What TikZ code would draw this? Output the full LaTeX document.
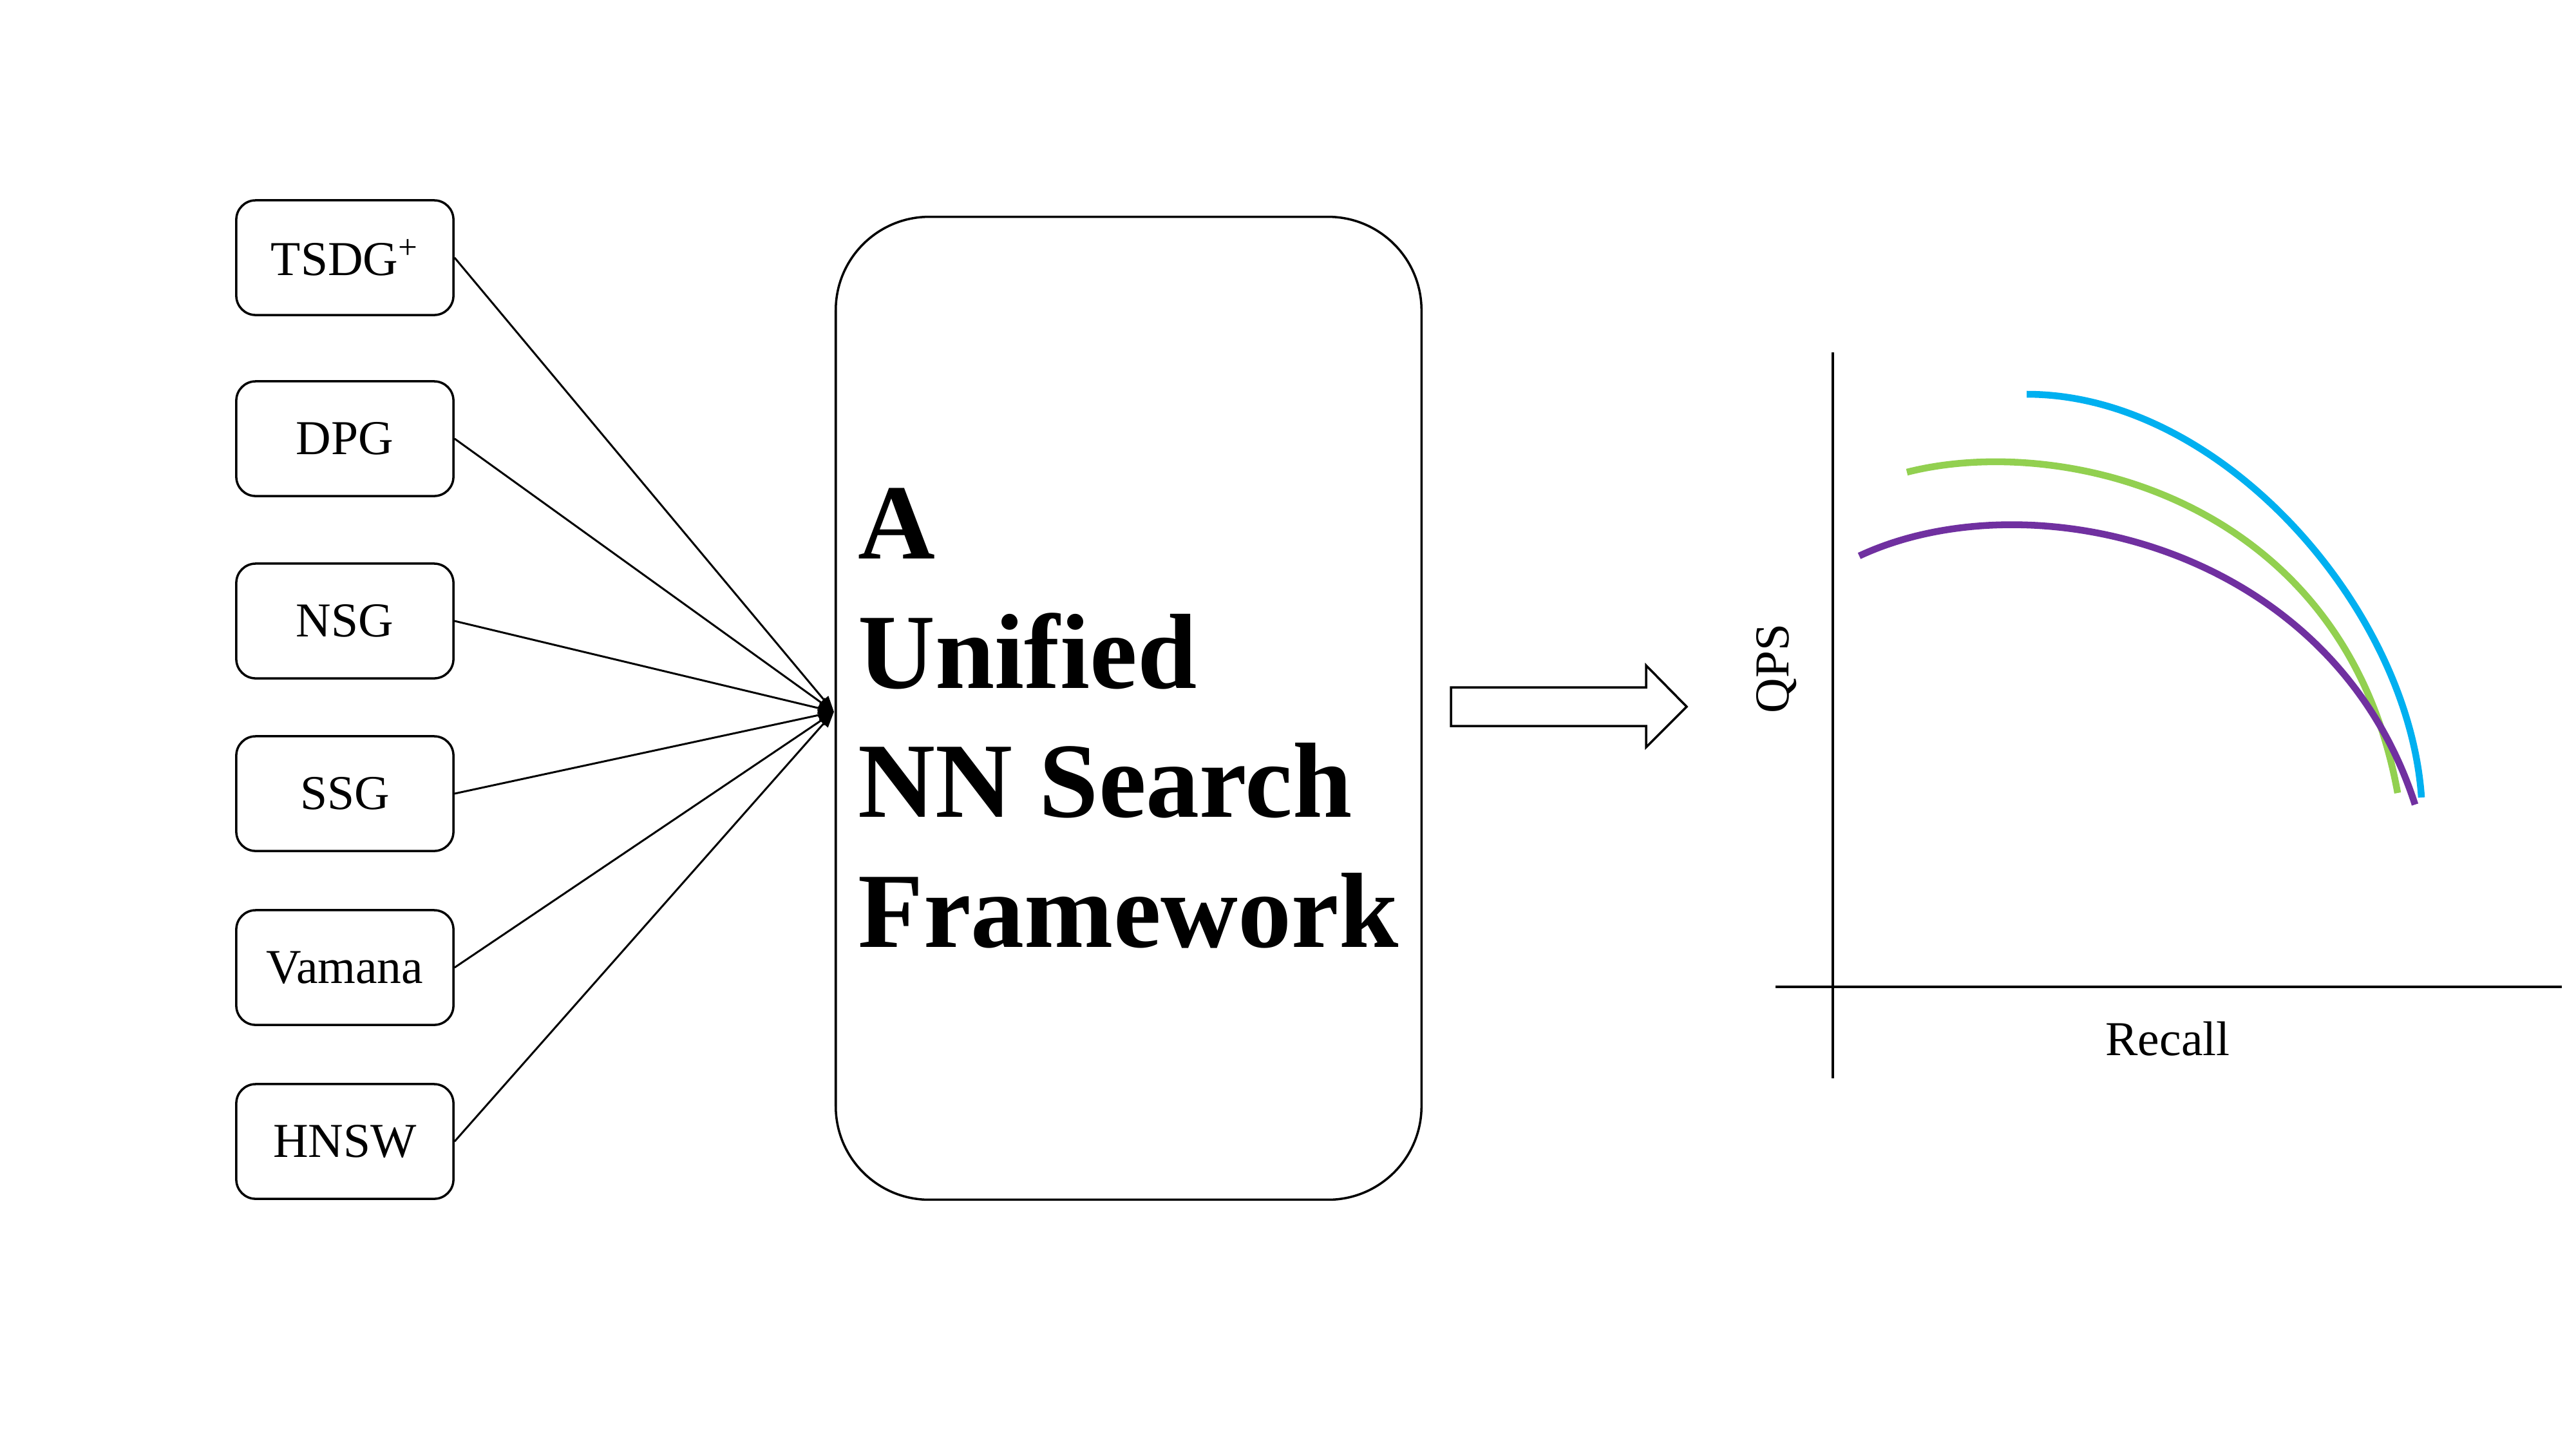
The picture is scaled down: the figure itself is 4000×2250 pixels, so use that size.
\documentclass[tikz,border=0pt]{standalone}
\usepackage{fontspec}
\setmainfont{Liberation Serif}
\usetikzlibrary{arrows.meta}
\definecolor{cblue}{HTML}{00B0F0}
\definecolor{cgreen}{HTML}{92D050}
\definecolor{cpurple}{HTML}{7030A0}
\begin{document}
\begin{tikzpicture}[x=0.01cm,y=-0.01cm,
  algbox/.style={draw, line width=1pt, rounded corners=0.3cm, minimum width=3.37cm,
    minimum height=1.78cm, inner sep=0pt, font=\fontsize{21.5}{26}\selectfont},
  mainbox/.style={draw, line width=1pt, rounded corners=1.45cm, minimum width=9.09cm,
    minimum height=15.25cm, inner sep=0pt},
  bigtext/.style={anchor=base west, inner sep=0pt, font=\fontsize{47.2}{57}\selectfont\bfseries},
  link/.style={line width=0.85pt, -{Triangle[length=7pt,width=5pt]}},
  axis/.style={line width=0.9pt},
  curve/.style={line width=3pt},
  axlabel/.style={inner sep=0pt, font=\fontsize{21.5}{26}\selectfont}]
\fill[white] (0,0) rectangle (4000,2250);
\useasboundingbox (0,0) rectangle (4000,2250);

% algorithm boxes
\node[algbox] (tsdg) at (535.5,400) {TSDG\textsuperscript{+}};
\node[algbox] (dpg) at (535.5,681) {DPG};
\node[algbox] (nsg) at (535.5,964) {NSG};
\node[algbox] (ssg) at (535.5,1232) {SSG};
\node[algbox] (vamana) at (535.5,1502) {Vamana};
\node[algbox] (hnsw) at (535.5,1772) {HNSW};

% framework box
\node[mainbox] (fw) at (1752.5,1099.5) {};
\node[bigtext] (fwa) at (1332,867) {A};
\node[bigtext] (fwb) at (1332,1068) {Unified};
\node[bigtext] (fwc) at (1332,1268) {NN Search};
\node[bigtext] (fwd) at (1332,1470) {Framework};

\coordinate (conv) at (1295,1105);
\foreach \n in {tsdg,dpg,nsg,ssg,vamana,hnsw}
  \draw[link] (\n.east) -- (conv);

% block arrow
\draw[line width=1pt, line join=miter] (2253,1067) -- (2556,1067) -- (2556,1033) -- (2619,1097)
  -- (2556,1160) -- (2556,1127) -- (2253,1127) -- cycle;

% chart
\coordinate (ytop) at (2846,547);
\coordinate (ybot) at (2846,1674);
\coordinate (xl) at (2757,1532);
\coordinate (xr) at (3978,1532);
\draw[axis] (ytop) -- (ybot);
\draw[axis] (xl) -- (xr);
\node[axlabel, anchor=base] (recall) at (3366,1638) {Recall};
\node[axlabel, anchor=base, rotate=90] (qps) at (2777,1038) {QPS};

\draw[curve, cblue] (3147,612) .. controls (3450,612) and (3740,945) .. (3760,1238);
\draw[curve, cgreen] (2961,733) .. controls (3200,672) and (3640,772) .. (3723,1231);
\draw[curve, cpurple] (2887,863) .. controls (3150,740) and (3620,845) .. (3750,1249);
\end{tikzpicture}
\end{document}
